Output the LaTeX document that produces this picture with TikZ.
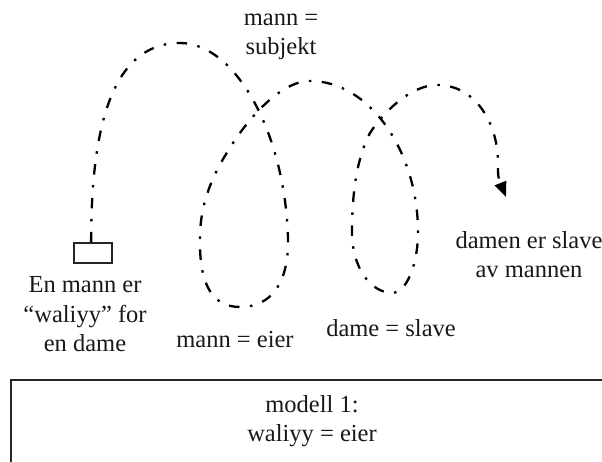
\documentclass[tikz,border=0pt]{standalone}
\usepackage{fontspec}
\setmainfont{Liberation Serif}
\usetikzlibrary{arrows.meta}
\begin{document}
\begin{tikzpicture}[x=1pt,y=1pt,
  lbl/.style={align=center,inner sep=0pt,anchor=base,text=black!90,
    font=\fontsize{24.5}{29.5}\selectfont},
  coil/.style={line width=2.3pt,black,
    dash pattern=on 10.5pt off 10.5pt on 2.5pt off 10.5pt,
    -{Triangle[length=15pt,width=12pt]}},
  startbox/.style={draw=black!85,line width=1.1pt,minimum width=38pt,
    minimum height=20pt,inner sep=0pt},
  frame/.style={draw=black!85,line width=1.8pt,minimum width=640pt,
    minimum height=140pt,inner sep=0pt}]
\useasboundingbox (0,0) rectangle (602,462);
\fill[white] (0,0) rectangle (602,462);

\node[startbox] (box) at (93,209) {};
\node[frame,anchor=north west] (frame) at (10,83) {};

\node[lbl] (subj) at (281,407) {mann =\\subjekt};
\node[lbl] (start) at (85,110) {En mann er\\“waliyy” for\\en dame};
\node[lbl] (eier) at (235,114) {mann = eier};
\node[lbl] (slave) at (391,125) {dame = slave};
\node[lbl] (result) at (529,184) {damen er slave\\av mannen};
\node[lbl] (model) at (312,20) {modell 1:\\waliyy = eier};

\coordinate (end) at (506,265);

\draw[coil] (box.100) .. controls (91,330) and (110,419) .. (180,419)
 .. controls (235,419) and (285,330) .. (288,224)
 .. controls (289,180) and (272,155) .. (240,155)
 .. controls (212,155) and (199,178) .. (200,224)
 .. controls (200,265) and (218,296) .. (233,319)
 .. controls (248,342) and (280,381) .. (310,381)
 .. controls (370,381) and (418,310) .. (418,230)
 .. controls (418,195) and (405,169) .. (393,169)
 .. controls (370,169) and (352,195) .. (352,230)
 .. controls (352,280) and (360,310) .. (370,329)
 .. controls (382,348) and (410,377) .. (437,377)
 .. controls (478,377) and (498,335) .. (498,300)
 .. controls (498,285) .. (end);
\end{tikzpicture}
\end{document}
